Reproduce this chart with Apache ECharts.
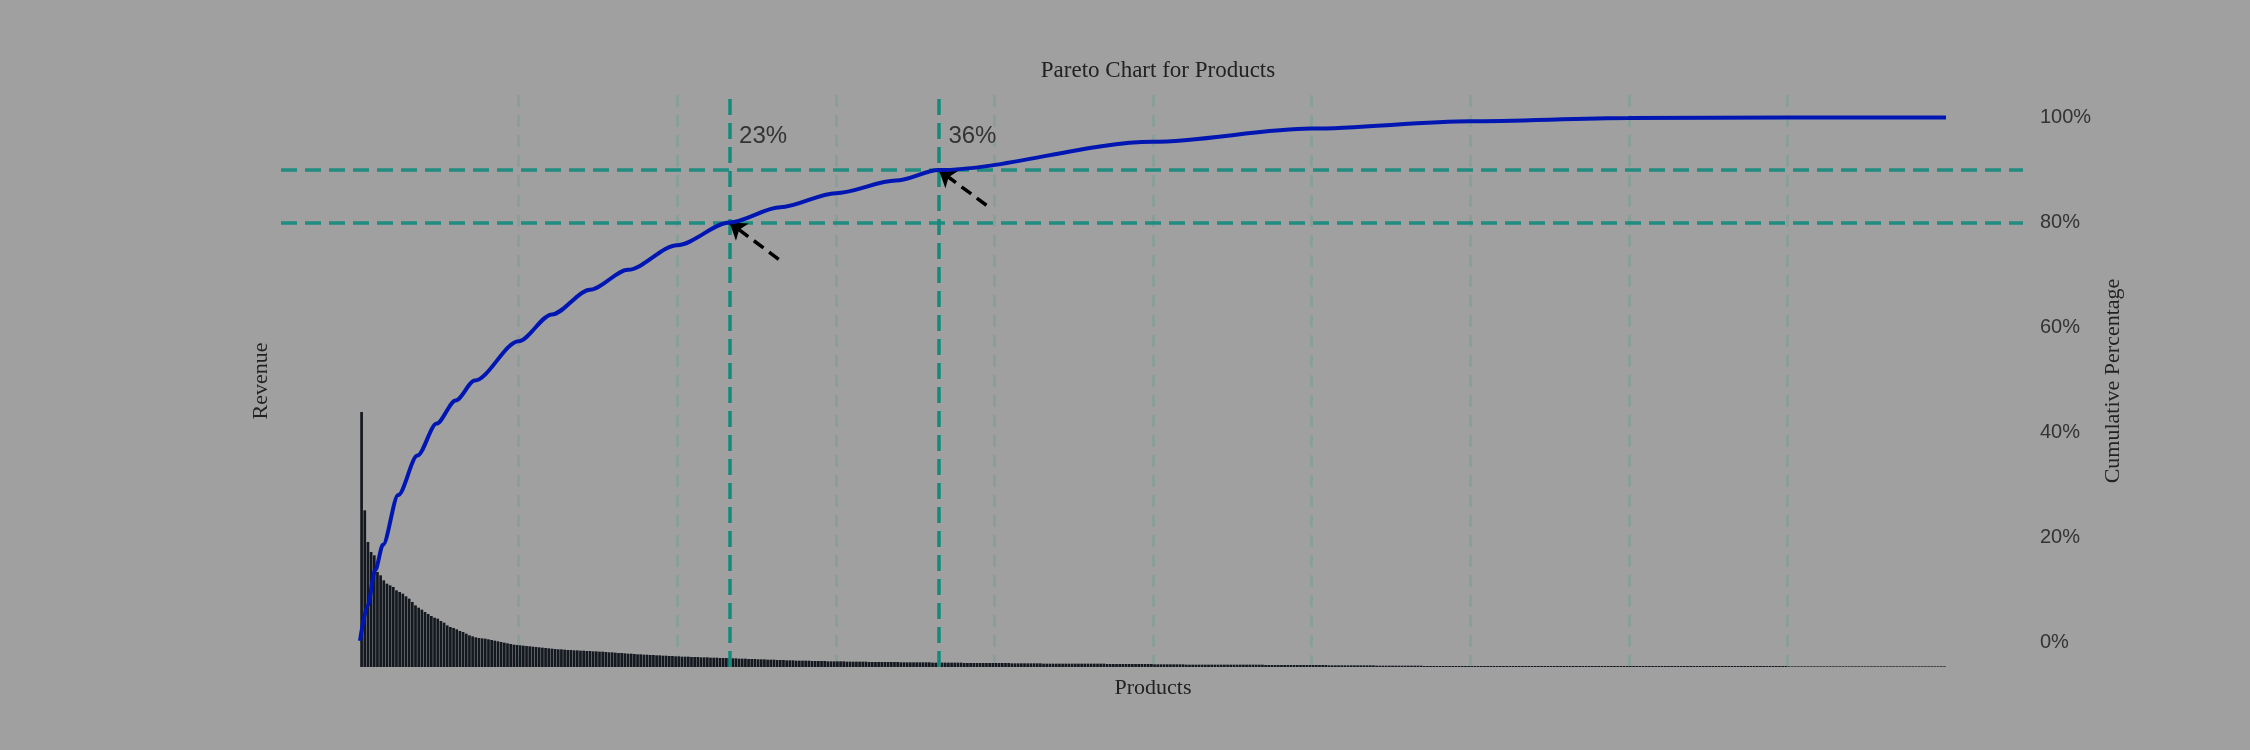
<!DOCTYPE html>
<html><head><meta charset="utf-8">
<script src="https://cdn.jsdelivr.net/npm/echarts@6/dist/echarts.min.js"></script>
<style>html,body{margin:0;padding:0;background:#a0a0a0}#c{width:2250px;height:750px}</style>
</head><body><div id="c"></div>
<script>
const revenue = [
765,470,375,345,335,285,275,260,250,245,240,230,225,220,212,205,195,185,178,172,165,159,153,148,145,138,133,125,120,117,113,108,105,100,95,92,89,87,86,
85,83,81,79,77,75,73,71,69,67,
66,65,64,63,62,61,60,59,58,57,56,55,54,53,53,52,51,51,50,50,49,49,48,48,47,47,
46,46,45,44,44,43,42,42,41,40,40,39,38,38,37,37,36,36,35,35,34,34,33,33,32,
32,31,31,31,30,30,30,29,29,29,28,28,28,27,27,27,
26,26,26,25,25,25,24,24,24,23,23,23,22,22,22,21,21,21,20,20,20,19,19,
19,19,19,18,18,18,18,18,17,17,17,17,17,17,16,16,16,16,16,16,16,15,15,15,15,15,15,15,15,15,15,
14,14,14,14,14,14,14,14,14,14,13,13,13,13,13,13,13,13,13,13,12,12,12,12,12,
12,12,12,12,12,12,12,12,12,12,11,11,11,11,11,11,11,11,11,11,10,10,10,10,10,10,10,10,10,10,
10,10,10,10,10,10,10,10,10,10,9,9,9,9,9,9,9,9,9,9,9,9,9,9,9,8,8,8,8,8,8,8,8,8,8,7,7,7,7,7,7,7,7,7,7,
7,7,7,7,7,7,7,7,7,7,7,7,7,7,7,6,6,6,6,6,6,6,6,6,6,6,6,6,6,6,6,6,6,6,6,5,5,5,5,5,5,5,5,5,5,5,5,5,5,5,
4,4,4,4,4,4,4,4,4,4,4,4,4,4,4,3,3,3,3,3,3,3,3,3,3,3,3,3,3,3,3,3,3,3,3,3,3,3,3,3,3,3,3,3,3,3,3,3,3,3,3,3,3,3,3,3,3,3,3,3,3,3,3,3,3,3,3,3,3,3,3,3,3,3,3,3,3,3,3,3,
3,3,3,3,3,3,3,3,3,3,3,3,3,3,3,3,3,3,3,3,3,3,3,3,3,3,3,3,3,3,3,3,3,3,3,3,3,3,3,3,3,3,3,3,3,3,3,3,3,3,
2,2,2,2,2,2,2,2,2,2,2,2,2,2,2,2,2,2,2,2,2,2,2,2,2,2,2,2,2,2,2,2,2,2,2,2,2,2,2,2,2,2,2,2,2,2,2,2,2,2
];
const products = revenue.map((v, i) => 'P' + (i + 1));
const cumShare = [0, 0.48, 0.96, 1.45, 2.41, 3.62, 4.83, 6.03, 7.24, 10, 12.1, 14.5, 16.9, 20, 23.3, 26.5, 30, 33.8, 36.5, 50, 60, 70, 80, 90, 100];
const cumPct   = [0.3, 7.0, 13.8, 18.6, 28.1, 35.6, 41.7, 46.1, 49.9, 57.4, 62.5, 67.2, 71.0, 75.7, 80, 82.9, 85.6, 88.0, 90, 95.4, 97.9, 99.3, 99.9, 100, 100];
const cutShares = [23.3, 36.5];
const cutLabels = ['23%', '36%'];
const thresholds = [80, 90];
const arrowTails = [[26.4, 73.0], [39.5, 83.3]];
const pctTicks = [0, 20, 40, 60, 80, 100];

const teal = '#138a7c';
const chart = echarts.init(document.getElementById('c'));
const serif = '"Liberation Serif", "DejaVu Serif", serif';
const sans = '"Liberation Sans", Arial, sans-serif';
chart.setOption({
  backgroundColor: '#a0a0a0',
  animation: false,
  title: { text: 'Pareto Chart for Products', left: 1153, textAlign: 'center', top: 54,
    textStyle: { fontFamily: serif, fontSize: 23, fontWeight: 'normal', color: '#222' } },
  grid: [
    { left: 360, right: 304, top: 95, bottom: 83 },
    { left: 281, right: 227, top: 95, bottom: 83 }
  ],
  xAxis: [
    { type: 'category', data: products, gridIndex: 0, name: 'Products', nameLocation: 'middle', nameGap: 10,
      nameTextStyle: { fontFamily: serif, fontSize: 22, color: '#222' },
      axisLine: { show: false }, axisTick: { show: false }, axisLabel: { show: false }, splitLine: { show: false } },
    { type: 'value', gridIndex: 0, min: 0, max: 100, interval: 10, show: true,
      axisLine: { show: false }, axisTick: { show: false, customValues: [10,20,30,40,50,60,70,80,90] }, axisLabel: { show: false },
      splitLine: { show: true, lineStyle: { color: '#8a9f97', type: [12, 8], width: 3 } } },
    { type: 'value', gridIndex: 1, min: 0, max: 1, show: false }
  ],
  yAxis: [
    { type: 'value', gridIndex: 0, min: 0, max: 1716, name: 'Revenue', nameLocation: 'middle', nameGap: 88, nameRotate: 90,
      nameTextStyle: { fontFamily: serif, fontSize: 22, color: '#222' },
      axisLine: { show: false }, axisTick: { show: false }, axisLabel: { show: false }, splitLine: { show: false } },
    { type: 'value', gridIndex: 0, position: 'right', min: -4.67, max: 104.3,
      name: 'Cumulative Percentage', nameLocation: 'middle', nameGap: 154, nameRotate: 90,
      nameTextStyle: { fontFamily: serif, fontSize: 22, color: '#222' },
      axisLine: { show: false }, axisTick: { show: false },
      axisLabel: { customValues: pctTicks, formatter: '{value}%', margin: 94, fontFamily: sans, fontSize: 20, color: '#333' },
      splitLine: { show: false } },
    { type: 'value', gridIndex: 1, min: -4.67, max: 104.3, show: false }
  ],
  series: [
    { type: 'bar', xAxisIndex: 0, yAxisIndex: 0, data: revenue, barCategoryGap: '15%',
      itemStyle: { color: '#14181f' }, silent: true },
    { type: 'line', xAxisIndex: 2, yAxisIndex: 2, data: [], silent: true,
      markLine: { symbol: 'none', silent: true, label: { show: false },
        lineStyle: { color: teal, type: [16, 8], width: 3.5, opacity: 0.9 },
        data: thresholds.map(t => ({ yAxis: t })) } },
    { type: 'line', xAxisIndex: 1, yAxisIndex: 1, smooth: 0.3, smoothMonotone: 'x', showSymbol: false, silent: true,
      data: cumShare.map((s, i) => [s, cumPct[i]]),
      lineStyle: { color: '#0016b3', width: 4 }, z: 5,
      markLine: { silent: true, symbol: 'none', label: { show: false },
        lineStyle: { color: teal, type: [16, 8], width: 3.5 },
        data: cutShares.map(s => ({ xAxis: s })) } },
    { type: 'line', xAxisIndex: 1, yAxisIndex: 1, data: [], silent: true, z: 6,
      markLine: { silent: true, symbol: ['none', 'arrow'], symbolSize: 16, label: { show: false },
        lineStyle: { color: '#000', type: [12, 7], width: 3.5 },
        data: arrowTails.map((t, i) => [{ coord: t }, { coord: [cutShares[i], thresholds[i]] }]) },
      markPoint: { silent: true, symbol: 'circle', symbolSize: 0,
        label: { show: true, position: 'right', distance: 0, fontFamily: sans, fontSize: 24, color: '#333',
          formatter: p => p.name },
        data: cutShares.map((s, i) => ({ name: cutLabels[i], coord: [s + 0.6, 96.5] })) } }
  ]
});
</script></body></html>
